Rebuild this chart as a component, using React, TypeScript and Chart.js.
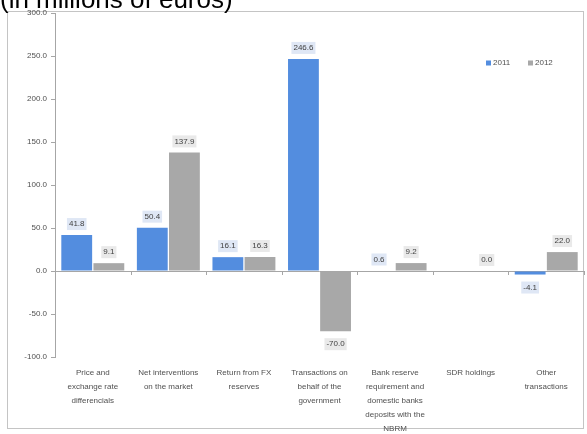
import React, { useEffect, useRef } from "react";
import { Chart, registerables } from "chart.js";

Chart.register(...registerables);

const categories: string[][] = [
  ["Price and", "exchange rate", "differencials"],
  ["Net interventions", "on the market"],
  ["Return from FX", "reserves"],
  ["Transactions on", "behalf of the", "government"],
  ["Bank reserve", "requirement and", "domestic banks", "deposits with the", "NBRM"],
  ["SDR holdings"],
  ["Other", "transactions"],
];
const values2011: (number | null)[] = [41.8, 50.4, 16.1, 246.6, 0.6, null, -4.1];
const values2012: (number | null)[] = [9.1, 137.9, 16.3, -70.0, 9.2, 0.0, 22.0];
const seriesNames = ["2011", "2012"];
const yTicks = [300, 250, 200, 150, 100, 50, 0, -50, -100];

const BLUE = "#538ddf";
const GRAY = "#a8a8a8";
const LABEL_BG = ["#dfe7f5", "#e9e9e9"];

const overlayPlugin = {
  id: "overlay",
  beforeDatasetsDraw(chart: any) {
    const { ctx, chartArea, scales } = chart;
    const y0 = scales.y.getPixelForValue(0);
    ctx.save();
    ctx.strokeStyle = "#a6a6a6";
    ctx.lineWidth = 1;
    ctx.beginPath();
    ctx.moveTo(chartArea.left, Math.round(y0) + 0.5);
    ctx.lineTo(chartArea.right, Math.round(y0) + 0.5);
    const n = categories.length;
    const w = (chartArea.right - chartArea.left) / n;
    for (let i = 1; i <= n; i++) {
      const x = Math.round(chartArea.left + i * w) + 0.5;
      ctx.moveTo(x, Math.round(y0));
      ctx.lineTo(x, Math.round(y0) + 4);
    }
    ctx.stroke();
    ctx.restore();
  },
  afterDatasetsDraw(chart: any) {
    const { ctx } = chart;
    ctx.save();
    ctx.font = "8px 'Liberation Sans', Arial, sans-serif";
    ctx.textAlign = "center";
    ctx.textBaseline = "middle";
    chart.data.datasets.forEach((ds: any, di: number) => {
      const meta = chart.getDatasetMeta(di);
      meta.data.forEach((bar: any, i: number) => {
        const v = ds.data[i];
        if (v === null || v === undefined) return;
        const txt = v.toFixed(1);
        const tw = ctx.measureText(txt).width;
        const y = v >= 0 ? bar.y - 11 : bar.y + 13;
        ctx.fillStyle = LABEL_BG[di];
        ctx.fillRect(bar.x - tw / 2 - 2, y - 6, tw + 4, 12);
        ctx.fillStyle = "#404040";
        ctx.fillText(txt, bar.x, y);
      });
    });
    // legend
    ctx.font = "8px 'Liberation Sans', Arial, sans-serif";
    ctx.textAlign = "left";
    let x = 486;
    const ly = 63;
    seriesNames.forEach((name, i) => {
      ctx.fillStyle = i === 0 ? BLUE : GRAY;
      ctx.fillRect(x, ly - 2.5, 5, 5);
      ctx.fillStyle = "#505050";
      ctx.fillText(name, x + 7, ly);
      x += 42;
    });
    ctx.restore();
  },
};

export default function App() {
  const ref = useRef<HTMLCanvasElement>(null);
  useEffect(() => {
    if (!ref.current) return;
    const chart = new Chart(ref.current, {
      type: "bar",
      data: {
        labels: categories,
        datasets: [
          {
            label: seriesNames[0],
            data: values2011,
            backgroundColor: BLUE,
            borderWidth: 0,
            categoryPercentage: 0.85,
            barPercentage: 0.96,
          },
          {
            label: seriesNames[1],
            data: values2012,
            backgroundColor: GRAY,
            borderWidth: 0,
            categoryPercentage: 0.85,
            barPercentage: 0.96,
          },
        ],
      },
      options: {
        animation: false,
        responsive: false,
        maintainAspectRatio: false,
        layout: { padding: { left: 0, right: 3, top: 13, bottom: 0 } },
        plugins: {
          legend: { display: false },
          tooltip: { enabled: false },
          title: { display: false },
        },
        scales: {
          x: {
            grid: { display: false, drawTicks: false },
            border: { display: false },
            ticks: {
              padding: 9,
              maxRotation: 0,
              autoSkip: false,
              color: "#505050",
              font: { family: "'Liberation Sans', Arial, sans-serif", size: 8, lineHeight: 1.75 },
            },
            afterFit(scale: any) {
              scale.height = 77;
            },
          },
          y: {
            min: -100,
            max: 300,
            afterBuildTicks(scale: any) {
              scale.ticks = yTicks.map((v) => ({ value: v }));
            },
            grid: { drawOnChartArea: false, drawTicks: true, tickLength: 4, color: "#a6a6a6" },
            border: { display: true, color: "#a6a6a6" },
            ticks: {
              padding: 4,
              color: "#505050",
              font: { family: "'Liberation Sans', Arial, sans-serif", size: 8 },
              callback: (v: any) => Number(v).toFixed(1),
            },
            afterFit(scale: any) {
              scale.width = 55;
            },
          },
        },
      },
      plugins: [overlayPlugin],
    });
    return () => chart.destroy();
  }, []);

  return (
    <div style={{ position: "fixed", left: 0, top: 0, width: 587, height: 434, background: "#fff", overflow: "hidden" }}>
      <div
        style={{
          position: "absolute",
          left: 7,
          top: 11,
          width: 577,
          height: 418,
          border: "1px solid #c4c4c4",
          boxSizing: "border-box",
        }}
      />
      <canvas ref={ref} width={587} height={434} style={{ position: "absolute", left: 0, top: 0 }} />
      <div
        style={{
          position: "absolute",
          left: 0,
          top: -15,
          fontFamily: "'Liberation Sans', Arial, sans-serif",
          fontSize: 26,
          lineHeight: "28px",
          color: "#000",
          whiteSpace: "nowrap",
        }}
      >
        (in millions of euros)
      </div>
    </div>
  );
}
